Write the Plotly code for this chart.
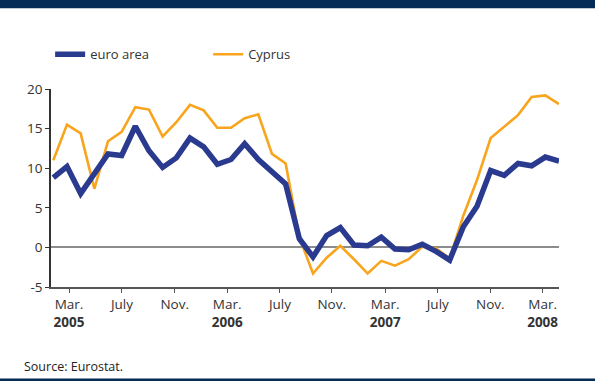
import plotly.graph_objects as go

# Monthly data, Feb 2005 - Mar 2008 (annual % changes)
months = ["2005-02","2005-03","2005-04","2005-05","2005-06","2005-07","2005-08","2005-09","2005-10","2005-11","2005-12",
          "2006-01","2006-02","2006-03","2006-04","2006-05","2006-06","2006-07","2006-08","2006-09","2006-10","2006-11","2006-12",
          "2007-01","2007-02","2007-03","2007-04","2007-05","2007-06","2007-07","2007-08","2007-09","2007-10","2007-11","2007-12",
          "2008-01","2008-02","2008-03"]

euro_area = [8.8, 10.2, 6.8, 9.3, 11.8, 11.6, 15.3, 12.2, 10.1, 11.3, 13.8,
             12.7, 10.5, 11.1, 13.1, 11.1, 9.5, 8.0, 1.1, -1.2, 1.5, 2.5, 0.3,
             0.2, 1.3, -0.2, -0.3, 0.4, -0.5, -1.6, 2.6, 5.2, 9.7, 9.1, 10.6,
             10.3, 11.4, 10.9]

cyprus = [11.0, 15.5, 14.4, 7.4, 13.4, 14.6, 17.7, 17.4, 14.0, 15.8, 18.0,
          17.3, 15.1, 15.1, 16.3, 16.8, 11.8, 10.6, 1.3, -3.3, -1.3, 0.2, -1.5,
          -3.3, -1.7, -2.3, -1.5, 0.1, -0.1, -1.4, 4.0, 8.5, 13.8, 15.3, 16.7,
          19.0, 19.2, 18.1]

tick_labels = ["Mar.<br><b>2005</b>", "July", "Nov.", "Mar.<br><b>2006</b>", "July", "Nov.",
               "Mar.<br><b>2007</b>", "July", "Nov.", "Mar.<br><b>2008</b>"]
tick_positions = [1.15, 5.02, 8.88, 12.72, 16.58, 20.37, 24.28, 28.13, 31.97, 35.8]

y_tick_values = [-5, 0, 5, 10, 15, 20]
y_tick_labels = ["-5", "0", "5", "10", "15", "20"]

x_idx = list(range(len(months)))

fig = go.Figure()
fig.add_trace(go.Scatter(x=x_idx, y=cyprus, mode="lines", name="Cyprus",
                         line=dict(color="#F8A51D", width=2.6), legendrank=2,
                         customdata=months))
fig.add_trace(go.Scatter(x=x_idx, y=euro_area, mode="lines", name="euro area",
                         line=dict(color="#2A3A8F", width=5.5), legendrank=1,
                         customdata=months))

fig.update_layout(
    width=595, height=381,
    margin=dict(l=51, r=36.3, t=89, b=94.3, autoexpand=False),
    paper_bgcolor="white", plot_bgcolor="white",
    font=dict(family="Open Sans", size=13, color="#333333"),
    showlegend=True,
    legend=dict(orientation="h", x=-0.0017, xanchor="left", y=1.175, yanchor="middle",
                font=dict(size=13, color="#333333"), entrywidth=113, entrywidthmode="pixels",
                bgcolor="rgba(0,0,0,0)", traceorder="normal"),
    xaxis=dict(range=[-0.17, 37.0], showgrid=False, zeroline=False,
               showline=True, linecolor="#555555", linewidth=1.5,
               ticks="outside", ticklen=4, tickcolor="#555555", tickwidth=1.2,
               tickvals=tick_positions, ticktext=tick_labels,
               tickfont=dict(size=13.5, color="#333333"), fixedrange=True),
    yaxis=dict(range=[-5, 20], tickvals=y_tick_values, ticktext=y_tick_labels, showgrid=False,
               zeroline=True, zerolinecolor="#8C8C8C", zerolinewidth=1.8,
               showline=True, linecolor="#333333", linewidth=1.5,
               ticks="outside", ticklen=4, tickcolor="#333333", tickwidth=1.2,
               tickfont=dict(size=13.5, color="#333333"), fixedrange=True),
    shapes=[
        dict(type="rect", xref="paper", yref="paper", x0=-0.11, x1=1.08, y0=1.408, y1=1.46,
             fillcolor="#032B55", line=dict(width=0), layer="above"),
        dict(type="rect", xref="paper", yref="paper", x0=-0.11, x1=1.08, y0=-0.462, y1=-0.5,
             fillcolor="#032B55", line=dict(width=0), layer="above"),
    ],
    annotations=[
        dict(text="Source: Eurostat.", xref="paper", yref="paper", x=-0.0571, y=-0.401,
             xanchor="left", yanchor="middle", showarrow=False,
             font=dict(size=12.5, color="#222222")),
    ],
)

fig.write_html("out.html", config={"displayModeBar": False},
               post_script="document.body.style.margin='0';document.body.style.padding='0';")
